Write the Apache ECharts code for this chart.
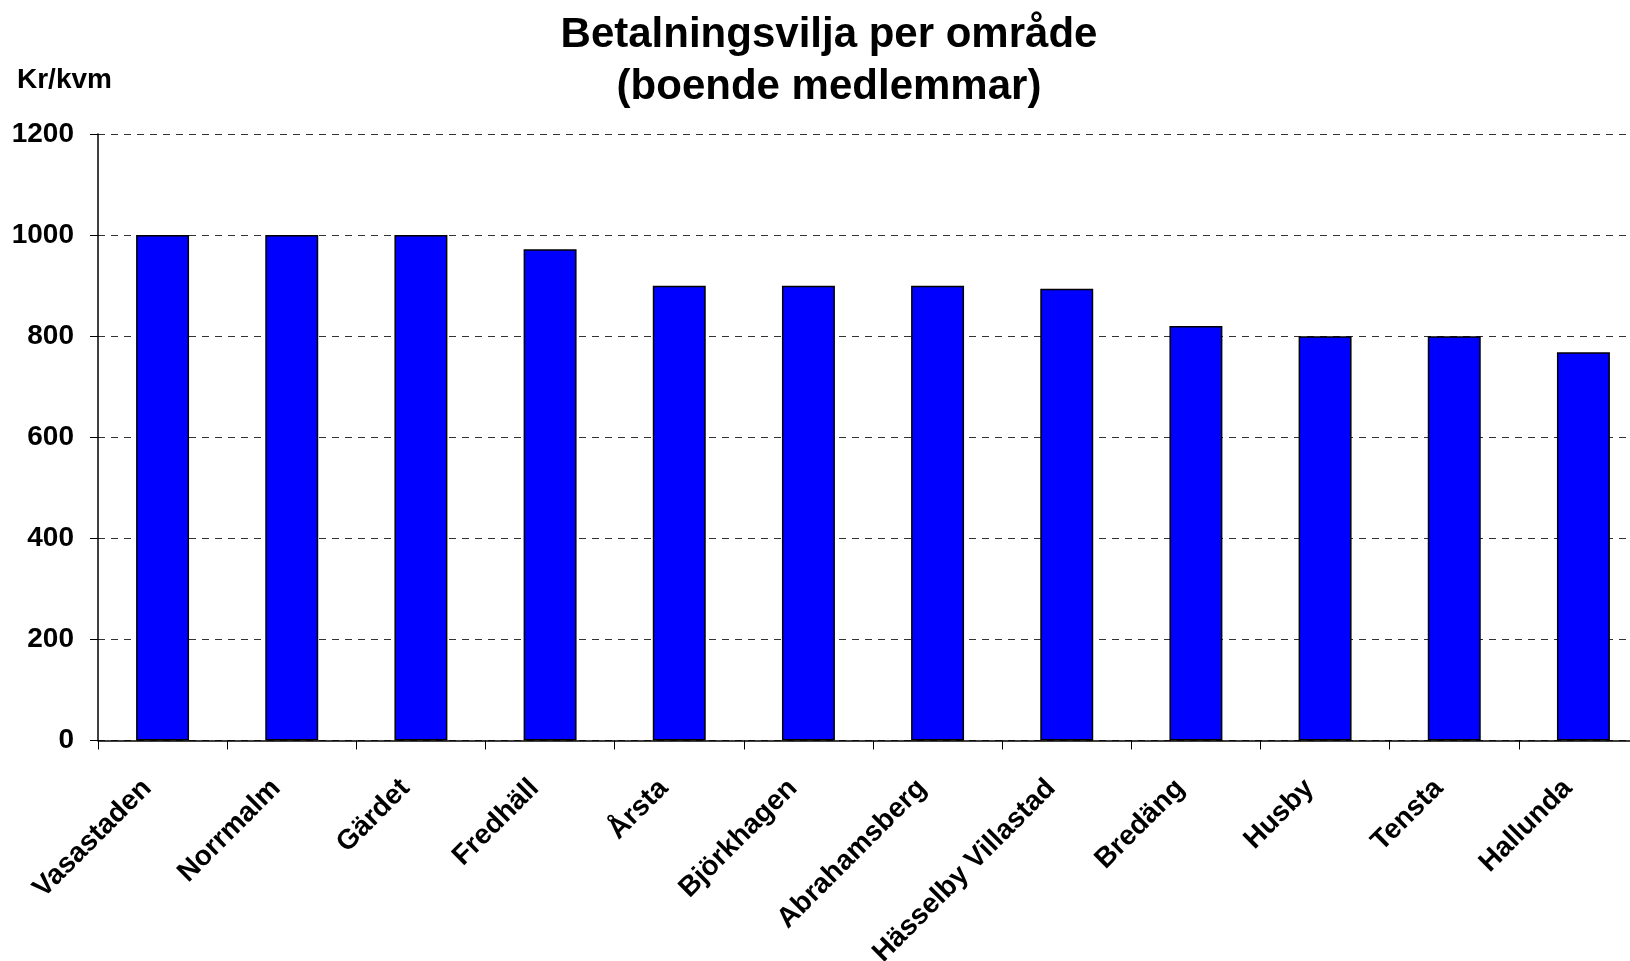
<!DOCTYPE html>
<html>
<head>
<meta charset="utf-8">
<title>Betalningsvilja per område</title>
<script src="https://cdn.jsdelivr.net/npm/echarts@6.0.0/dist/echarts.min.js"></script>
<style>
  html, body { margin: 0; padding: 0; background: #ffffff; }
  #chart { width: 1630px; height: 961px; }
</style>
</head>
<body>
<div id="chart"></div>
<script>
// Areas and the price per square metre members are willing to pay
const areas = [
  'Vasastaden', 'Norrmalm', 'Gärdet', 'Fredhäll', 'Årsta', 'Björkhagen',
  'Abrahamsberg', 'Hässelby Villastad', 'Bredäng', 'Husby', 'Tensta', 'Hallunda'
];
const krPerKvm = [1000, 1000, 1000, 972, 900, 900, 900, 894, 820, 800, 800, 768];

const yMin = 0;
const yMax = 1200;
const yStep = 200;

const FONT = '"Liberation Sans", Arial, Helvetica, sans-serif';

const chart = echarts.init(document.getElementById('chart'), null, { renderer: 'canvas' });

chart.setOption({
  backgroundColor: '#ffffff',
  animation: false,
  title: {
    text: 'Betalningsvilja per område\n(boende medlemmar)',
    left: 824,
    top: 4,
    textAlign: 'center',
    textStyle: {
      fontFamily: FONT,
      fontSize: 42,
      fontWeight: 'bold',
      lineHeight: 52,
      color: '#000000'
    }
  },
  graphic: [{
    type: 'text',
    left: 17,
    top: 66,
    style: {
      text: 'Kr/kvm',
      font: 'bold 28px ' + FONT,
      fill: '#000000'
    }
  }],
  grid: {
    left: 98,
    right: -18,
    top: 134,
    height: 606.5,
    containLabel: false,
    outerBoundsMode: 'none'
  },
  xAxis: {
    type: 'category',
    data: areas,
    boundaryGap: true,
    axisLine: { show: true, lineStyle: { color: '#000000', width: 1.5 } },
    axisTick: { show: true, length: 9, interval: 0, alignWithLabel: false, lineStyle: { color: '#000000', width: 1 } },
    axisLabel: {
      interval: 0,
      rotate: 45,
      margin: 28,
      padding: [0, 22, 0, 0],
      fontFamily: FONT,
      fontSize: 28,
      fontWeight: 'bold',
      color: '#000000'
    },
    splitLine: { show: false }
  },
  yAxis: {
    type: 'value',
    min: yMin,
    max: yMax,
    interval: yStep,
    axisLine: { show: true, lineStyle: { color: '#000000', width: 1.5 } },
    axisTick: { show: true, length: 8, lineStyle: { color: '#000000', width: 1 } },
    axisLabel: {
      margin: 24,
      formatter: (v) => String(v),
      fontFamily: FONT,
      fontSize: 28,
      fontWeight: 'bold',
      color: '#000000'
    },
    splitLine: {
      show: true,
      lineStyle: { color: '#333333', width: 1, type: [7, 6] }
    }
  },
  series: [{
    type: 'bar',
    data: krPerKvm,
    barWidth: '41%',
    itemStyle: {
      color: '#0000ff',
      borderColor: '#000000',
      borderWidth: 1.5
    }
  }]
});
</script>
</body>
</html>
